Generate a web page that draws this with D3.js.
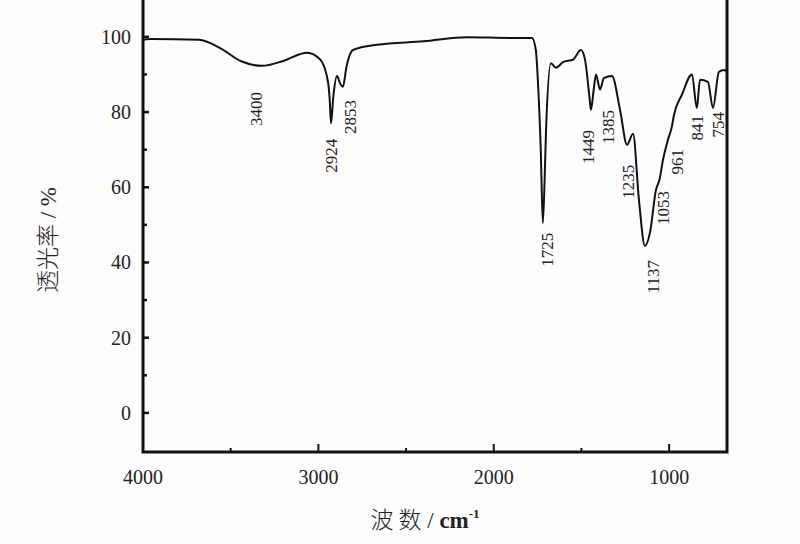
<!DOCTYPE html>
<html>
<head>
<meta charset="utf-8">
<script src="https://cdn.jsdelivr.net/npm/d3@7"></script>
<style>
  body { margin: 0; background: #fdfdfd; }
  svg text { font-family: "Liberation Serif", "DejaVu Serif", serif; fill: #222; }
</style>
</head>
<body>
<script>
const width = 800
const height = 544
const margin = { top: 0, right: 73, bottom: 92, left: 143 }

// wavenumber (cm-1) and transmittance (%)
const wavenumbers = [4000, 3960, 3680, 3560, 3440, 3322, 3200, 3065, 2990, 2945, 2935, 2928, 2915, 2894, 2875, 2860, 2840, 2803, 2666, 2400, 2153, 1900, 1782, 1760, 1748, 1732, 1720, 1710, 1702, 1674, 1646, 1600, 1549, 1503, 1480, 1452, 1446, 1430, 1417, 1394, 1372, 1326, 1280, 1240, 1206, 1172, 1138, 1109, 1075, 1055, 1035, 1007, 985, 972, 927, 870, 842, 824, 779, 750, 716, 687, 670]
const transmittance = [99.2, 99.4, 99.2, 97, 93.5, 92.3, 93.6, 95.8, 94, 88, 83, 77, 84, 89.6, 87.5, 86.7, 92, 96.5, 97.9, 98.8, 99.9, 99.7, 99.7, 96.5, 88, 70, 50.5, 62, 75, 93, 91.8, 93.4, 93.9, 96.5, 94, 83, 80.6, 86, 90, 86, 89, 89.6, 80.6, 71.3, 74.2, 56.6, 44.4, 48, 59.3, 62, 67.3, 72.6, 76, 79.3, 84.6, 90, 81.1, 88.6, 88, 81.1, 90.7, 91.2, 90.7]
const spectrum = wavenumbers.map((w, i) => ({ w, t: transmittance[i] }))

const peakLabels = ["3400", "2924", "2853", "1725", "1449", "1385", "1235", "1137", "1053", "961", "841", "754"]
const peakX = [3356, 2928, 2820, 1697, 1463, 1349, 1235, 1089, 1035, 956, 842, 722]
const peakY = [80.8, 68.4, 78.7, 43.4, 70.7, 76, 61.5, 36.2, 54.5, 66.8, 75.8, 76.6]

const xMajor = [4000, 3000, 2000, 1000]
const xMinor = [3500, 2500, 1500]
const yMajor = [0, 20, 40, 60, 80, 100]
const yMinor = [10, 30, 50, 70, 90]

const svg = d3.select("body").append("svg").attr("width", width).attr("height", height)

const x = d3.scaleLinear().domain([4000, 670]).range([margin.left, width - margin.right])
const y = d3.scaleLinear().domain([-10.4, 109.8]).range([height - margin.bottom, margin.top])

const g = svg.append("g")

// y ticks (inward)
yMajor.forEach(v => {
  g.append("line").attr("x1", x(4000)).attr("x2", x(4000) + 6).attr("y1", y(v)).attr("y2", y(v))
    .style("stroke", "#111").style("stroke-width", 2.5)
  g.append("text").text(String(v)).attr("x", x(4000) - 12).attr("y", y(v)).attr("dy", ".35em")
    .attr("text-anchor", "end").style("font-size", "20px")
})
yMinor.forEach(v => {
  g.append("line").attr("x1", x(4000)).attr("x2", x(4000) + 4).attr("y1", y(v)).attr("y2", y(v))
    .style("stroke", "#111").style("stroke-width", 2.5)
})

// x ticks (inward)
xMajor.forEach(v => {
  g.append("line").attr("x1", x(v)).attr("x2", x(v)).attr("y1", y(-10.4)).attr("y2", y(-10.4) - 8)
    .style("stroke", "#111").style("stroke-width", 2)
  g.append("text").text(String(v)).attr("x", x(v)).attr("y", y(-10.4) + 32)
    .attr("text-anchor", "middle").style("font-size", "20px")
})
xMinor.forEach(v => {
  g.append("line").attr("x1", x(v)).attr("x2", x(v)).attr("y1", y(-10.4)).attr("y2", y(-10.4) - 4)
    .style("stroke", "#111").style("stroke-width", 2)
})

// axes lines: left, bottom, right
g.append("path")
  .attr("d", `M${x(4000)},${y(109.8)}V${y(-10.4)}H${x(670)}V${y(109.8)}`)
  .style("fill", "none").style("stroke", "#111").style("stroke-width", 3)

// spectrum
const line = d3.line().x(d => x(d.w)).y(d => y(d.t)).curve(d3.curveMonotoneX)
g.append("path").attr("d", line(spectrum))
  .style("fill", "none").style("stroke", "#111").style("stroke-width", 2)
  .style("stroke-linejoin", "round")

// peak labels
peakLabels.forEach((lab, i) => {
  g.append("text").text(lab)
    .attr("transform", `translate(${x(peakX[i])},${y(peakY[i])}) rotate(-90)`)
    .attr("text-anchor", "middle").attr("dy", ".35em").style("font-size", "17px")
})

// axis titles
const yt = svg.append("text")
  .attr("transform", `translate(48,240) rotate(-90)`)
  .attr("text-anchor", "middle").attr("dy", ".35em").style("font-size", "23px")
yt.append("tspan").style("font-family", "'Noto Sans CJK SC'").style("font-weight", 300).text("透光率")
yt.append("tspan").text(" / %")

const xt = svg.append("text").attr("x", 425).attr("y", 528).attr("text-anchor", "middle")
  .style("font-size", "23px")
xt.append("tspan").style("font-family", "'Noto Sans CJK SC'").style("font-weight", 300).text("波  数")
xt.append("tspan").text(" / ")
xt.append("tspan").style("font-weight", "bold").text("cm")
xt.append("tspan").attr("dy", -10).style("font-size", "13px").style("font-weight", "bold").text("-1")
</script>
</body>
</html>
